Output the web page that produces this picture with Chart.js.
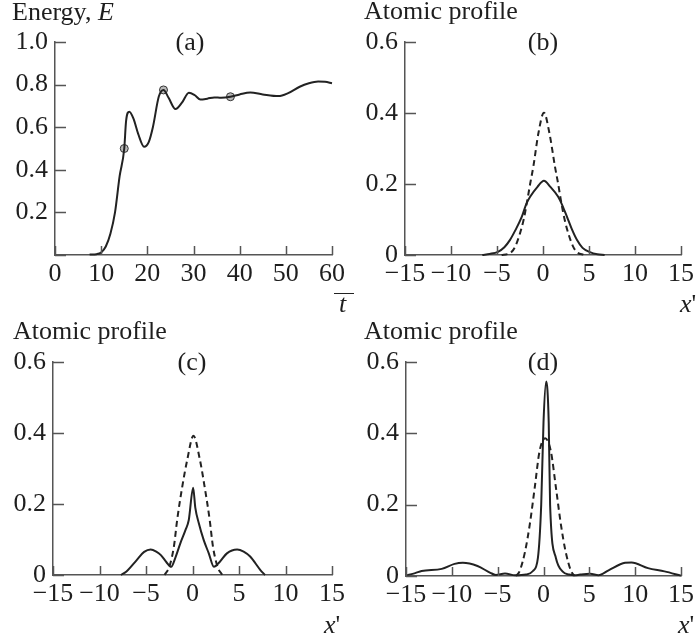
<!DOCTYPE html>
<html>
<head>
<meta charset="utf-8">
<script src="https://cdn.jsdelivr.net/npm/chart.js@4.4.0/dist/chart.umd.min.js"></script>
<style>
  body { margin: 0; background: #fff; }
  #page { position: relative; width: 698px; height: 641px; overflow: hidden; font-family: "Liberation Serif", "Times New Roman", serif; color: #1e1e1e; }
  canvas { position: absolute; }
  .txt { position: absolute; font-size: 26px; line-height: 30px; white-space: nowrap; }
  .mid { transform: translateX(-50%); }
  .bar { position: absolute; border-top: 1.5px solid #222; }
</style>
</head>
<body>
<div id="page">
  <canvas id="chartA" width="349" height="320" style="left:0;top:0"></canvas>
  <canvas id="chartB" width="349" height="320" style="left:349px;top:0"></canvas>
  <canvas id="chartC" width="349" height="321" style="left:0;top:320px"></canvas>
  <canvas id="chartD" width="349" height="321" style="left:349px;top:320px"></canvas>

  <div class="txt" style="left:12px;top:-3px">Energy, <i>E</i></div>
  <div class="txt mid" style="left:190px;top:27px">(a)</div>
  <div class="bar" style="left:334px;top:293px;width:20px"></div>
  <div class="txt" style="left:339px;top:289px"><i>t</i></div>

  <div class="txt" style="left:364px;top:-4px">Atomic profile</div>
  <div class="txt mid" style="left:543px;top:27px">(b)</div>
  <div class="txt" style="left:680px;top:289px"><i>x</i>'</div>

  <div class="txt" style="left:13px;top:316px">Atomic profile</div>
  <div class="txt mid" style="left:192px;top:347px">(c)</div>
  <div class="txt" style="left:324px;top:610px"><i>x</i>'</div>

  <div class="txt" style="left:364px;top:316px">Atomic profile</div>
  <div class="txt mid" style="left:543px;top:347px">(d)</div>
  <div class="txt" style="left:678px;top:610px"><i>x</i>'</div>
</div>

<script>
// (a) energy vs time
const timeA = [7.5, 9, 10, 11, 12, 13, 14, 15, 15.4, 16.1, 17, 18, 19.3, 20.3, 21.2, 22.5, 23.5, 24.6, 26.1, 27.5, 29, 30.3, 31.5, 33, 34.5, 36, 38, 40, 42.3, 45, 48.4, 50.5, 53, 55, 57, 58.5, 60];
const energyA = [0.002, 0.004, 0.012, 0.04, 0.1, 0.2, 0.37, 0.5, 0.63, 0.673, 0.64, 0.57, 0.508, 0.53, 0.6, 0.745, 0.775, 0.738, 0.685, 0.715, 0.762, 0.75, 0.73, 0.734, 0.74, 0.738, 0.743, 0.754, 0.763, 0.754, 0.746, 0.76, 0.79, 0.806, 0.814, 0.813, 0.806];
const markTimeA = [15, 23.5, 38];
const markEnergyA = [0.5, 0.775, 0.743];

// dashed = initial profile, solid = profile at given time
const xDashB = [-4.5, -3.8, -3.4, -3.0, -2.5, -2.1, -1.76, -1.4, -1.05, -0.5, 0.1, 0.7, 1.3, 1.65, 2.0, 2.35, 2.75, 3.25, 3.65, 4.5];
const yDashB = [0, 0.003, 0.009, 0.025, 0.061, 0.1, 0.146, 0.2, 0.249, 0.343, 0.401, 0.343, 0.249, 0.2, 0.146, 0.1, 0.061, 0.025, 0.009, 0];
const xSolidB = [-6.6, -5.8, -4.9, -4.2, -3.6, -3.0, -2.3, -1.8, -1.4, -0.6, 0.1, 0.8, 1.65, 2.1, 2.6, 3.1, 3.7, 4.3, 5.1, 5.9, 6.7];
const ySolidB = [0, 0.003, 0.009, 0.022, 0.042, 0.07, 0.108, 0.145, 0.164, 0.192, 0.209, 0.192, 0.164, 0.14, 0.108, 0.075, 0.042, 0.02, 0.008, 0.002, 0];

const xDashC = [-3.0, -2.5, -2.0, -1.65, -1.1, -0.57, 0.1, 0.8, 1.3, 1.85, 2.2, 2.7, 3.2];
const yDashC = [0, 0.023, 0.08, 0.155, 0.249, 0.324, 0.392, 0.324, 0.249, 0.155, 0.08, 0.023, 0];
const xSolidC = [-7.7, -7.1, -6.0, -5.2, -4.5, -3.9, -3.4, -2.8, -2.3, -1.8, -1.3, -0.75, -0.4, 0.07, 0.3, 0.68, 1.2, 1.75, 2.3, 2.9, 3.7, 4.8, 5.5, 6.2, 7.3, 7.8];
const ySolidC = [0, 0.01, 0.042, 0.065, 0.072, 0.066, 0.056, 0.036, 0.023, 0.052, 0.09, 0.127, 0.155, 0.246, 0.19, 0.146, 0.099, 0.061, 0.023, 0.036, 0.061, 0.072, 0.066, 0.052, 0.014, 0];

const xDashD = [-3.0, -2.6, -2.0, -1.5, -0.96, -0.43, 0.18, 0.8, 1.36, 1.9, 2.4, 3.0, 3.4];
const yDashD = [0, 0.014, 0.07, 0.144, 0.247, 0.35, 0.386, 0.35, 0.247, 0.144, 0.07, 0.014, 0];
const xSolidD = [-15, -14, -13.3, -11.1, -9.7, -8.8, -7.2, -5.8, -5.2, -4.2, -3.1, -1.9, -1.15, -0.61, -0.25, 0.0, 0.29, 0.57, 0.72, 1.36, 2.1, 2.8, 3.4, 4.0, 5.1, 6.0, 7.1, 8.9, 9.6, 11.4, 13.2, 15];
const ySolidD = [0.002, 0.008, 0.014, 0.02, 0.034, 0.037, 0.028, 0.009, 0.003, 0.007, 0.002, 0.004, 0.014, 0.051, 0.2, 0.43, 0.545, 0.43, 0.2, 0.05, 0.012, 0.004, 0.002, 0.004, 0.006, 0.002, 0.016, 0.037, 0.038, 0.022, 0.013, 0.001];

const profileTicksX = [-15, -10, -5, 0, 5, 10, 15];
const profileTicksY = [0, 0.2, 0.4, 0.6];
const energyTicksX = [0, 10, 20, 30, 40, 50, 60];
const energyTicksY = [0, 0.2, 0.4, 0.6, 0.8, 1.0];

const ink = "#222";
const axisColor = "#555";

Chart.defaults.font.family = "'Liberation Serif', 'Times New Roman', serif";
Chart.defaults.font.size = 26;
Chart.defaults.color = "#1e1e1e";

function zip(xs, ys) {
  return xs.map((x, i) => ({ x: x, y: ys[i] }));
}

function minus(v) {
  return String(v).replace("-", "\u2212");
}

// ticks point into the plot, so draw them ourselves from the scales
const inwardTicks = {
  id: "inwardTicks",
  afterDraw(chart) {
    const ctx = chart.ctx;
    const xs = chart.scales.x;
    const ys = chart.scales.y;
    const area = chart.chartArea;
    ctx.save();
    ctx.strokeStyle = axisColor;
    ctx.lineWidth = 1.5;
    ctx.beginPath();
    xs.ticks.forEach((t) => {
      const px = Math.round(xs.getPixelForValue(t.value)) + 0.5;
      ctx.moveTo(px, area.bottom);
      ctx.lineTo(px, area.bottom - 9);
    });
    ys.ticks.forEach((t) => {
      const py = Math.round(ys.getPixelForValue(t.value)) + 0.5;
      ctx.moveTo(area.left, py);
      ctx.lineTo(area.left + 11, py);
    });
    ctx.stroke();
    ctx.restore();
  },
};

function solidLine(data) {
  return {
    data: data,
    borderColor: ink,
    borderWidth: 2,
    pointRadius: 0,
    cubicInterpolationMode: "monotone",
    fill: false,
    clip: 4,
  };
}

function dashedLine(data) {
  let ds = solidLine(data);
  ds.borderDash = [6, 4];
  ds.borderWidth = 2;
  return ds;
}

function makePanel(id, box, datasets, xTicks, yTicks, hideYZero) {
  const canvas = document.getElementById(id);
  return new Chart(canvas, {
    type: "line",
    data: { datasets: datasets },
    plugins: [inwardTicks],
    options: {
      responsive: false,
      animation: false,
      events: [],
      layout: { padding: { left: 0, top: box.top, right: box.right, bottom: 0 } },
      plugins: { legend: { display: false }, tooltip: { enabled: false } },
      scales: {
        x: {
          type: "linear",
          min: xTicks[0],
          max: xTicks[xTicks.length - 1],
          afterBuildTicks: (scale) => { scale.ticks = xTicks.map((v) => ({ value: v })); },
          afterFit: (scale) => { scale.height = box.xHeight; },
          grid: { display: false, drawTicks: false },
          border: { display: true, color: axisColor, width: 1.5 },
          ticks: { padding: 4, autoSkip: false, maxRotation: 0, callback: (v) => minus(v) },
        },
        y: {
          type: "linear",
          min: yTicks[0],
          max: yTicks[yTicks.length - 1],
          afterBuildTicks: (scale) => { scale.ticks = yTicks.map((v) => ({ value: v })); },
          afterFit: (scale) => { scale.width = box.yWidth; },
          grid: { display: false, drawTicks: false },
          border: { display: true, color: axisColor, width: 1.5 },
          ticks: {
            padding: 7,
            autoSkip: false,
            callback: (v) => (v === 0 ? (hideYZero ? "" : "0") : v.toFixed(1)),
          },
        },
      },
    },
  });
}

makePanel(
  "chartA",
  { top: 42, right: 16, xHeight: 65, yWidth: 55 },
  [
    solidLine(zip(timeA, energyA)),
    {
      data: zip(markTimeA, markEnergyA),
      showLine: false,
      pointRadius: 4,
      pointBackgroundColor: "#b8b8b8",
      pointBorderColor: "#333",
      pointBorderWidth: 1,
    },
  ],
  energyTicksX,
  energyTicksY,
  true
);

makePanel(
  "chartB",
  { top: 42, right: 16, xHeight: 65, yWidth: 56 },
  [dashedLine(zip(xDashB, yDashB)), solidLine(zip(xSolidB, ySolidB))],
  profileTicksX,
  profileTicksY,
  false
);

makePanel(
  "chartC",
  { top: 42, right: 17, xHeight: 66, yWidth: 53 },
  [dashedLine(zip(xDashC, yDashC)), solidLine(zip(xSolidC, ySolidC))],
  profileTicksX,
  profileTicksY,
  false
);

makePanel(
  "chartD",
  { top: 42, right: 14, xHeight: 65, yWidth: 57 },
  [dashedLine(zip(xDashD, yDashD)), solidLine(zip(xSolidD, ySolidD))],
  profileTicksX,
  profileTicksY,
  false
);
</script>
</body>
</html>
